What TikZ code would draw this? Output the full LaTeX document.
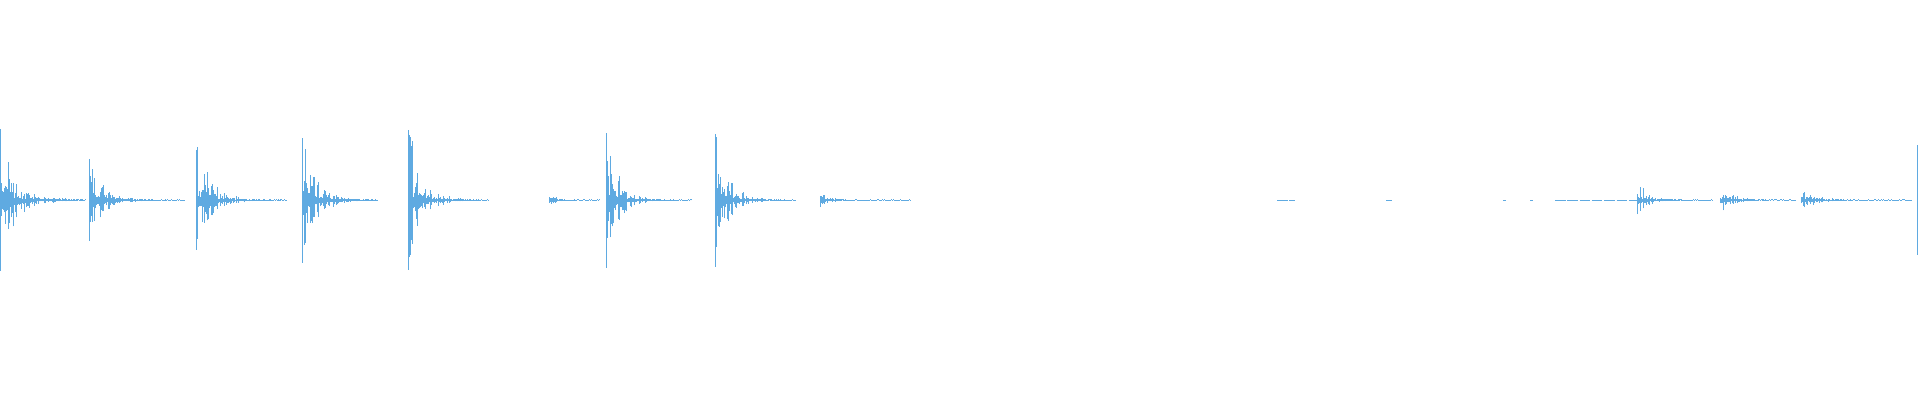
\documentclass[tikz,border=0pt]{standalone}
\usepackage{tikz}
\definecolor{wave}{RGB}{95,170,225}
\tikzset{wv/.style={wave, line width=0.25pt}}
% burst: start, peak, decay, length
\newcommand\burst[4]{%
  \foreach \i in {0,...,#4}{%
    \pgfmathsetmacro\h{#2*exp(-\i/#3)*(0.15+0.85*rnd^2)+0.4}%
    \pgfmathsetmacro\g{\h*(0.4+1.0*rnd)}%
    \draw[wv] (#1+\i,200-\h) -- (#1+\i,200+\g);
  }}
\newcommand\hiss[2]{\draw[wv, dash pattern=on 3pt off 0.5pt] (#1,200) -- (#2,200);}
\begin{document}
\begin{tikzpicture}[x=0.01cm,y=0.01cm]
  \pgfmathsetseed{11}
  \fill[white] (0,0) rectangle (1920,400);
  \useasboundingbox (0,0) rectangle (1920,400);
  \draw[wv] (0,129) -- (0,271);
  \burst{0}{65}{16}{85}
  \draw[wv] (89,159) -- (89,241);
  \burst{89}{38}{14}{95}
  \draw[wv] (196,150) -- (196,250);
  \burst{196}{48}{15}{90}
  \draw[wv] (302,137) -- (302,262);
  \burst{302}{60}{14}{75}
  \draw[wv] (408,130) -- (408,270);
  \burst{408}{65}{13}{80}
  \burst{549}{9}{6}{50}
  \draw[wv] (606,132) -- (606,267);
  \burst{606}{64}{12}{85}
  \draw[wv] (715,133) -- (715,266);
  \burst{715}{62}{12}{80}
  \burst{820}{9}{8}{90}
  \burst{1637}{15}{10}{75}
  \burst{1720}{15}{10}{75}
  \burst{1801}{12}{12}{110}
  \draw[wv] (1917,145) -- (1917,255);
  \hiss{1277}{1295}
  \hiss{1386}{1392}
  \hiss{1503}{1506}
  \hiss{1530}{1533}
  \hiss{1555}{1637}
\end{tikzpicture}
\end{document}
